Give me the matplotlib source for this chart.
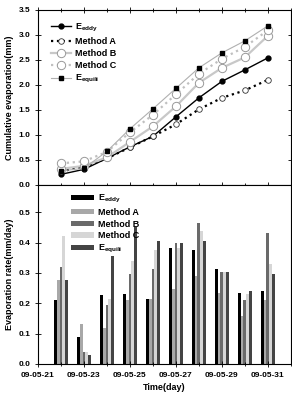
import matplotlib.pyplot as plt
import numpy as np

plt.rcParams['font.family'] = ['Liberation Sans', 'DejaVu Sans']
plt.rcParams['font.weight'] = 'bold'

days = [22, 23, 24, 25, 26, 27, 28, 29, 30, 31]
tick_days = [21, 23, 25, 27, 29, 31]
tick_labels = ["09-05-21", "09-05-23", "09-05-25", "09-05-27", "09-05-29", "09-05-31"]

# cumulative evaporation (mm)
cum_eddy = [0.21, 0.31, 0.53, 0.76, 0.97, 1.36, 1.74, 2.07, 2.30, 2.54]
cum_a = [0.27, 0.36, 0.53, 0.75, 0.97, 1.21, 1.51, 1.74, 1.89, 2.10]
cum_b = [0.32, 0.38, 0.55, 0.86, 1.17, 1.57, 2.04, 2.34, 2.55, 2.98]
cum_c = [0.43, 0.47, 0.66, 1.05, 1.40, 1.81, 2.22, 2.52, 2.76, 3.09]
cum_eq = [0.28, 0.33, 0.67, 1.12, 1.52, 1.93, 2.34, 2.64, 2.88, 3.18]

# daily evaporation rate (mm/day)
rate_eddy = [0.21, 0.088, 0.228, 0.23, 0.215, 0.383, 0.374, 0.313, 0.234, 0.241]
rate_a = [0.276, 0.131, 0.12, 0.21, 0.215, 0.248, 0.291, 0.234, 0.157, 0.21]
rate_b = [0.32, 0.041, 0.193, 0.297, 0.313, 0.397, 0.463, 0.302, 0.212, 0.43]
rate_c = [0.42, 0.041, 0.215, 0.34, 0.377, 0.383, 0.438, 0.302, 0.231, 0.328]
rate_eq = [0.277, 0.031, 0.355, 0.45, 0.406, 0.40, 0.405, 0.302, 0.242, 0.295]

labels = ["E$_{\\mathregular{eddy}}$", "Method A", "Method B", "Method C",
          "E$_{\\mathregular{equili}}$"]

fig = plt.figure(figsize=(2.92, 3.95), dpi=100)
ax1 = fig.add_axes([0.130, 0.532, 0.866, 0.443])
ax2 = fig.add_axes([0.130, 0.0785, 0.866, 0.4535])

ax1.plot(days, cum_eddy, '-', color='black', lw=1.0, marker='o', ms=3.5,
         mfc='black', mec='black', label=labels[0])
ax1.plot(days, cum_a, ':', color='black', lw=1.6, marker='o', ms=4,
         mfc='white', mec='#333333', mew=0.6, label=labels[1])
ax1.plot(days, cum_b, '-', color='#c8c8c8', lw=1.6, marker='o', ms=6,
         mfc='white', mec='#999999', mew=0.7, label=labels[2])
ax1.plot(days, cum_c, ':', color='#c0c0c0', lw=1.6, marker='o', ms=6,
         mfc='white', mec='#999999', mew=0.7, label=labels[3])
ax1.plot(days, cum_eq, '-', color='#b0b0b0', lw=0.8, marker='s', ms=3.5,
         mfc='black', mec='black', label=labels[4])

ax1.set_xlim(21, 32)
ax1.set_ylim(0, 3.5)
ax1.set_yticks(np.arange(0, 3.51, 0.5))
ax1.set_yticklabels(["%.1f" % v for v in np.arange(0, 3.51, 0.5)])
ax1.set_xticks(tick_days)
ax1.set_xticks(days + [21, 32], minor=True)
ax1.set_xticklabels([])
ax1.tick_params(axis='both', which='both', direction='inout', labelsize=6,
                top=True, right=True, length=4, width=0.6)
ax1.tick_params(axis='x', which='minor', length=2.5)
ax1.set_ylabel("Cumulative evaporation(mm)", fontsize=6.5, fontweight='bold', labelpad=3)
ax1.legend(loc='upper left', bbox_to_anchor=(0.02, 0.98), frameon=False,
           fontsize=6.5, handlelength=2.2, labelspacing=0.35, handletextpad=0.4)

colors = ['black', '#a8a8a8', '#6a6a6a', '#d6d6d6', '#444444']
rates = [rate_eddy, rate_a, rate_b, rate_c, rate_eq]
w = 0.12
x = np.array(days)
for i, (r, c) in enumerate(zip(rates, colors)):
    ax2.bar(x + (i - 2) * w, r, width=w, color=c, edgecolor='none', label=labels[i])

ax2.set_xlim(21, 32)
ax2.set_ylim(0, 0.59)
ax2.set_yticks(np.arange(0, 0.51, 0.1))
ax2.set_yticklabels(["%.1f" % v for v in np.arange(0, 0.51, 0.1)])
ax2.set_xticks(tick_days)
ax2.set_xticklabels(tick_labels)
ax2.set_xticks(days + [32], minor=True)
ax2.tick_params(axis='both', which='both', direction='inout', labelsize=6,
                length=4, width=0.6)
ax2.tick_params(axis='x', which='minor', length=2.5)
ax2.set_ylabel("Evaporation rate(mm/day)", fontsize=6.5, fontweight='bold', labelpad=3)
ax2.set_xlabel("Time(day)", fontsize=6.5, fontweight='bold', labelpad=3)
ax2.legend(loc='upper left', bbox_to_anchor=(0.1, 1.0), frameon=False,
           fontsize=6.5, handlelength=2.5, handleheight=0.5, labelspacing=0.3,
           handletextpad=0.4)

for ax in (ax1, ax2):
    for s in ax.spines.values():
        s.set_linewidth(0.8)

fig.savefig("out.png", dpi=100)
